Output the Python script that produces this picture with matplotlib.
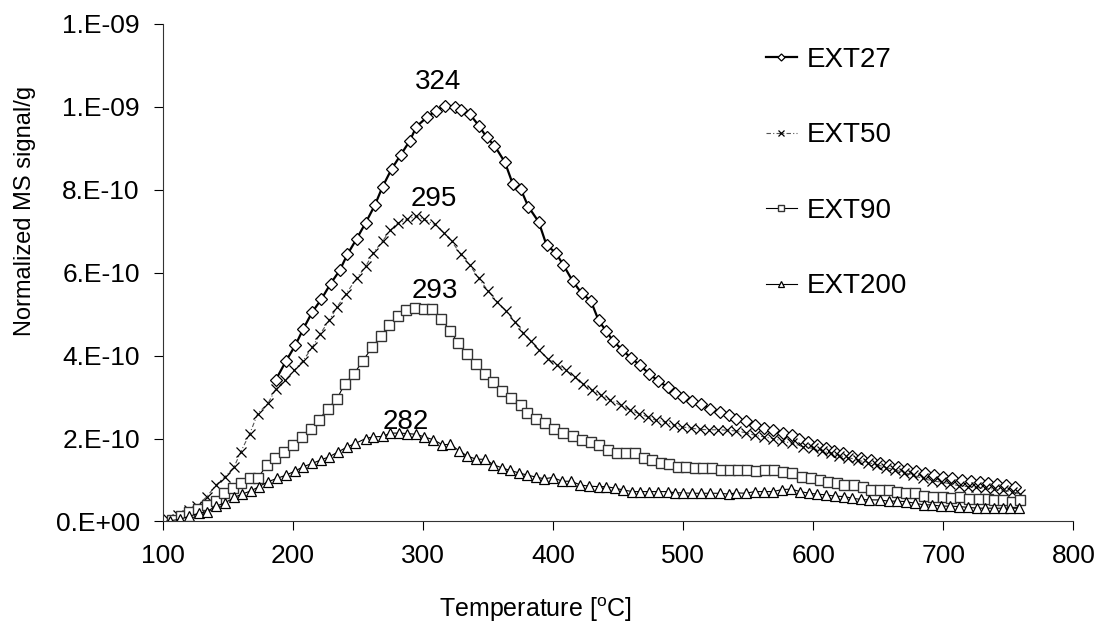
import matplotlib
matplotlib.use('Agg')
import matplotlib.pyplot as plt

plt.rcParams['font.family'] = ['Liberation Sans', 'DejaVu Sans']

# values in units of 1e-10
t_ext27 = [187, 195, 202, 208, 215, 222, 229, 236, 242, 249,
           256, 263, 269, 276, 283, 290, 295, 303, 310, 317,
           325, 329, 336, 343, 349, 355, 363, 369, 375, 381,
           389, 395, 402, 408, 415, 422, 429, 435, 441, 446,
           453, 460, 467, 474, 481, 488, 494, 500, 507, 514,
           521, 528, 535, 541, 548, 555, 562, 569, 577, 584,
           589, 596, 603, 610, 616, 623, 630, 637, 644, 651,
           658, 665, 672, 679, 686, 693, 700, 707, 714, 721,
           728, 734, 741, 748, 755]
ext27 = [3.42, 3.88, 4.25, 4.64, 5.05, 5.36, 5.73, 6.05, 6.44, 6.81,
         7.20, 7.62, 8.07, 8.50, 8.84, 9.18, 9.52, 9.74, 9.90, 10.02,
         10.00, 9.92, 9.82, 9.54, 9.26, 9.06, 8.66, 8.14, 8.02, 7.59,
         7.22, 6.66, 6.48, 6.18, 5.80, 5.50, 5.32, 4.85, 4.58, 4.36,
         4.14, 3.94, 3.76, 3.56, 3.38, 3.24, 3.10, 3.01, 2.90, 2.82,
         2.72, 2.64, 2.56, 2.48, 2.42, 2.33, 2.26, 2.20, 2.13, 2.08,
         2.00, 1.92, 1.84, 1.76, 1.70, 1.64, 1.58, 1.52, 1.47, 1.42,
         1.36, 1.32, 1.27, 1.22, 1.17, 1.12, 1.08, 1.04, 1.00, 0.98,
         0.95, 0.92, 0.90, 0.88, 0.84]

t_ext50 = [104, 112, 120, 126, 134, 141, 148, 155, 160, 167,
           173, 181, 187, 194, 201, 208, 215, 221, 228, 234,
           241, 249, 256, 262, 269, 275, 281, 288, 295, 301,
           309, 316, 322, 329, 336, 343, 350, 357, 364, 371,
           377, 383, 389, 396, 403, 410, 417, 423, 430, 437,
           444, 452, 459, 466, 473, 479, 486, 493, 499, 506,
           513, 520, 527, 534, 541, 548, 555, 562, 569, 576,
           584, 592, 600, 607, 614, 620, 627, 634, 642, 649,
           656, 663, 670, 677, 684, 691, 698, 705, 712, 719,
           725, 732, 739, 746, 753, 759]
ext50 = [0.05, 0.16, 0.28, 0.37, 0.60, 0.88, 1.08, 1.32, 1.68, 2.12,
         2.60, 2.85, 3.20, 3.40, 3.64, 3.88, 4.20, 4.52, 4.85, 5.17,
         5.49, 5.86, 6.15, 6.48, 6.76, 7.02, 7.20, 7.28, 7.36, 7.28,
         7.16, 6.96, 6.76, 6.44, 6.18, 5.86, 5.56, 5.30, 5.08, 4.80,
         4.55, 4.34, 4.14, 3.92, 3.78, 3.64, 3.48, 3.32, 3.16, 3.04,
         2.92, 2.80, 2.69, 2.60, 2.52, 2.44, 2.40, 2.32, 2.28, 2.25,
         2.22, 2.21, 2.21, 2.20, 2.18, 2.14, 2.08, 2.04, 2.00, 1.94,
         1.88, 1.80, 1.76, 1.70, 1.64, 1.59, 1.54, 1.48, 1.42, 1.37,
         1.30, 1.24, 1.18, 1.11, 1.04, 0.98, 0.95, 0.91, 0.86, 0.84,
         0.82, 0.80, 0.78, 0.75, 0.72, 0.66]

t_ext90 = [107, 114, 120, 127, 134, 141, 147, 154, 160, 167,
           173, 180, 186, 193, 200, 207, 214, 220, 227, 234,
           240, 247, 254, 261, 268, 274, 281, 287, 294, 301,
           307, 314, 321, 327, 334, 341, 348, 354, 361, 368,
           375, 380, 387, 394, 401, 408, 415, 422, 429, 435,
           442, 449, 456, 463, 470, 476, 483, 489, 496, 502,
           509, 515, 522, 529, 536, 542, 549, 556, 563, 570,
           577, 584, 591, 598, 605, 611, 618, 624, 631, 638,
           644, 651, 658, 664, 671, 678, 685, 692, 700, 706,
           713, 720, 727, 734, 739, 746, 753, 759]
ext90 = [0.04, 0.12, 0.24, 0.30, 0.40, 0.50, 0.68, 0.80, 0.92, 1.04,
         1.04, 1.36, 1.52, 1.68, 1.85, 2.04, 2.22, 2.45, 2.72, 2.96,
         3.32, 3.56, 3.88, 4.20, 4.48, 4.73, 4.96, 5.09, 5.14, 5.12,
         5.12, 4.88, 4.60, 4.30, 4.04, 3.80, 3.56, 3.36, 3.14, 2.97,
         2.80, 2.62, 2.48, 2.37, 2.24, 2.13, 2.05, 1.97, 1.92, 1.84,
         1.73, 1.65, 1.65, 1.65, 1.52, 1.48, 1.40, 1.38, 1.32, 1.32,
         1.30, 1.30, 1.28, 1.25, 1.25, 1.25, 1.25, 1.22, 1.24, 1.24,
         1.20, 1.16, 1.08, 1.06, 1.00, 0.96, 0.92, 0.88, 0.88, 0.82,
         0.77, 0.76, 0.76, 0.72, 0.69, 0.68, 0.62, 0.60, 0.60, 0.56,
         0.58, 0.54, 0.54, 0.54, 0.52, 0.52, 0.48, 0.52]

t_ext200 = [106, 113, 120, 128, 134, 141, 148, 155, 161, 168,
            174, 181, 188, 195, 202, 208, 215, 222, 228, 235,
            242, 248, 256, 262, 269, 275, 282, 288, 295, 301,
            308, 315, 321, 328, 334, 341, 348, 354, 361, 367,
            374, 380, 387, 393, 400, 407, 414, 421, 428, 435,
            441, 448, 454, 461, 467, 474, 481, 488, 494, 500,
            507, 514, 521, 528, 535, 541, 548, 555, 562, 569,
            576, 583, 590, 597, 603, 610, 617, 624, 630, 637,
            643, 651, 658, 664, 671, 678, 685, 691, 698, 705,
            712, 719, 726, 732, 739, 746, 751, 758]
ext200 = [0.02, 0.05, 0.12, 0.20, 0.24, 0.37, 0.45, 0.58, 0.66, 0.74,
          0.84, 0.96, 1.04, 1.12, 1.22, 1.32, 1.40, 1.49, 1.56, 1.68,
          1.80, 1.88, 2.00, 2.04, 2.05, 2.13, 2.13, 2.12, 2.10, 2.04,
          1.97, 1.85, 1.86, 1.70, 1.58, 1.50, 1.50, 1.37, 1.29, 1.23,
          1.17, 1.12, 1.07, 1.03, 1.06, 0.97, 0.97, 0.88, 0.85, 0.84,
          0.84, 0.80, 0.76, 0.72, 0.72, 0.72, 0.72, 0.72, 0.69, 0.69,
          0.68, 0.68, 0.68, 0.68, 0.66, 0.69, 0.68, 0.72, 0.72, 0.72,
          0.77, 0.78, 0.72, 0.68, 0.66, 0.64, 0.61, 0.60, 0.56, 0.53,
          0.52, 0.52, 0.49, 0.49, 0.48, 0.44, 0.40, 0.40, 0.37, 0.37,
          0.36, 0.34, 0.32, 0.32, 0.32, 0.32, 0.32, 0.32]

# peak labels: text, temperature, value (1e-10)
peak_text = ['324', '295', '293', '282']
peak_t = [312, 308, 309, 287]
peak_v = [10.6, 7.77, 5.56, 2.39]

y_ticks = [0, 2, 4, 6, 8, 10, 12]
y_tick_labels = ['0.E+00', '2.E-10', '4.E-10', '6.E-10', '8.E-10', '1.E-09', '1.E-09']
x_ticks = [100, 200, 300, 400, 500, 600, 700, 800]

scale = 1e-10

fig = plt.figure(figsize=(11, 6.27), dpi=100)
ax = fig.add_axes([0.1479, 0.1683, 0.828, 0.794])

ax.plot(t_ext27, [v * scale for v in ext27], color='black', lw=1.6,
        marker='D', ms=6, mfc='white', mec='black', mew=0.9, label='EXT27')
ax.plot(t_ext50, [v * scale for v in ext50], color='#555555', lw=0.8, ls=(0, (4, 2, 1, 2)),
        marker='x', ms=7, mec='black', mew=0.9, label='EXT50')
ax.plot(t_ext90, [v * scale for v in ext90], color='black', lw=0.8,
        marker='s', ms=6.5, mfc='white', mec='#333333', mew=1.0, label='EXT90')
ax.plot(t_ext200, [v * scale for v in ext200], color='black', lw=0.8,
        marker='^', ms=7, mfc='white', mec='black', mew=0.9, label='EXT200')

for txt, t, v in zip(peak_text, peak_t, peak_v):
    ax.text(t, v * scale, txt, ha='center', va='center', fontsize=20)

ax.set_xlim(100, 800)
ax.set_ylim(0, 12 * scale)
ax.set_xticks(x_ticks)
ax.set_yticks([v * scale for v in y_ticks])
ax.set_yticklabels(y_tick_labels)
ax.tick_params(direction='out', length=6.5, width=0.8, labelsize=19, pad=10)

for side in ['top', 'right']:
    ax.spines[side].set_visible(False)
for side in ['left', 'bottom']:
    ax.spines[side].set_linewidth(0.8)
    ax.spines[side].set_color('#333333')

ax.set_xlabel('Temperature [$^{\\mathregular{o}}$C]', fontsize=18)
ax.set_ylabel('Normalized MS signal/g', fontsize=17)
ax.xaxis.set_label_coords(0.409, -0.148)
ax.yaxis.set_label_coords(-0.139, 0.623)

ax.legend(loc='upper left', bbox_to_anchor=(766 / 1100, 1 - 47 / 627),
          bbox_transform=fig.transFigure, frameon=False, fontsize=20,
          handlelength=1.1, handletextpad=0.35, labelspacing=1.78,
          borderpad=0, borderaxespad=0, markerscale=0.6)

fig.savefig('out.png', dpi=100)
